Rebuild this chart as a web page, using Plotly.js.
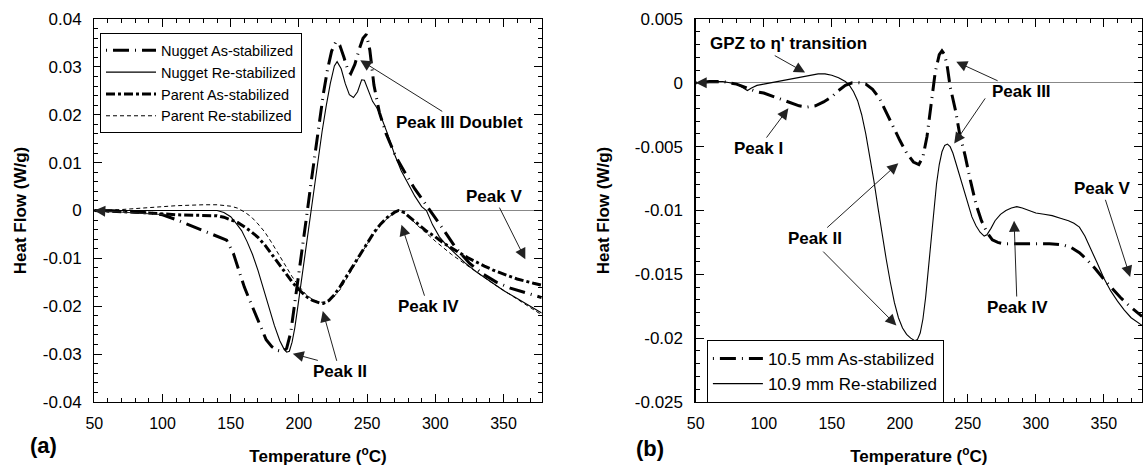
<!DOCTYPE html>
<html>
<head>
<meta charset="utf-8">
<script src="https://cdn.plot.ly/plotly-3.0.1.min.js"></script>
<style>html,body{margin:0;padding:0;background:#fff;}#chart{width:1146px;height:472px;}</style>
</head>
<body>
<div id="chart"></div>
<script>
// ---------- Panel (a) data ----------
const tempNuggetAs = [50,70,90,100,110,120,130,140,147,152,156,160,164,168,172,176,180,184,188,191,194,197,200,203,206,209,212,215,218,221,224,227,230,233,236,238,241,244,247,249.5,252,255,259,264,271,278,285,290,295,300,306,315,325,335,345,355,365,372,378];
const hfNuggetAs = [0,-0.0001,-0.0005,-0.0009,-0.0019,-0.0031,-0.0043,-0.0055,-0.0062,-0.009,-0.0125,-0.016,-0.0188,-0.0215,-0.0243,-0.027,-0.0284,-0.0292,-0.0295,-0.0288,-0.0255,-0.0195,-0.0132,-0.0068,-0.0005,0.006,0.0122,0.0183,0.0245,0.0295,0.0333,0.0352,0.0345,0.032,0.0292,0.0286,0.0305,0.0335,0.036,0.0368,0.0335,0.0262,0.0205,0.016,0.0113,0.0078,0.0045,0.0025,0.0005,-0.0015,-0.004,-0.0078,-0.011,-0.0133,-0.015,-0.0162,-0.0171,-0.0177,-0.0182];

const tempNuggetRe = [50,70,90,110,130,140,145,150,154,158,162,166,170,174,178,182,186,189,191,193,195,197,199,202,205,208,211,214,217,220,223,226,228,231,234,237,240,243,246,248,251,254,257,261,265,270,275,280,285,290,293.5,298,303,308,315,322,330,340,350,360,370,378];
const hfNuggetRe = [0,0,0,0.0001,0.0001,0,-0.0004,-0.0013,-0.0027,-0.0042,-0.0065,-0.0092,-0.0125,-0.0163,-0.0203,-0.024,-0.0272,-0.0289,-0.0296,-0.0294,-0.0275,-0.0245,-0.0205,-0.0143,-0.008,-0.0018,0.0045,0.0107,0.0165,0.0218,0.0265,0.0302,0.0311,0.0296,0.0265,0.0242,0.0236,0.0248,0.0273,0.0272,0.0248,0.0228,0.0215,0.019,0.016,0.0118,0.0083,0.0055,0.003,0.0008,0,-0.003,-0.0055,-0.0072,-0.0092,-0.011,-0.0128,-0.0148,-0.0167,-0.0184,-0.0201,-0.0214];

const tempParentAs = [50,70,90,110,130,140,145,150,155,160,165,170,175,180,185,190,195,200,205,210,215,218,222,226,230,235,240,245,250,255,260,265,270,273,277,282,288,294,300,306,312,318,324,330,336,342,348,354,360,366,372,378];
const hfParentAs = [0,-0.0002,-0.0005,-0.0009,-0.0011,-0.0011,-0.0014,-0.0019,-0.0025,-0.0034,-0.0044,-0.0056,-0.0072,-0.0091,-0.0111,-0.0131,-0.0149,-0.0165,-0.0179,-0.0188,-0.0193,-0.0194,-0.0188,-0.0176,-0.016,-0.0137,-0.0114,-0.009,-0.0067,-0.0046,-0.0028,-0.0014,-0.0004,0,-0.0004,-0.0015,-0.003,-0.0044,-0.0055,-0.0068,-0.0079,-0.0089,-0.0099,-0.0108,-0.0116,-0.0124,-0.0131,-0.0137,-0.0143,-0.0148,-0.0152,-0.0156];

const tempParentRe = [50,70,90,110,130,140,150,155,160,165,170,175,180,185,190,195,200,205,210,215,220,225,230,235,240,245,250,255,260,265,270,273,277,282,288,294,300,306,312,318,324,330,336,342,348,354,360,366,372,378];
const hfParentRe = [0,0.0002,0.0006,0.001,0.0012,0.0012,0.0009,0.0005,-0.0003,-0.0013,-0.0028,-0.0045,-0.0067,-0.0091,-0.0116,-0.0138,-0.0158,-0.0175,-0.0186,-0.0192,-0.0191,-0.0182,-0.0166,-0.0143,-0.0118,-0.0093,-0.0069,-0.0048,-0.003,-0.0016,-0.0005,-0.0001,-0.0005,-0.0017,-0.0034,-0.005,-0.0064,-0.0078,-0.0092,-0.0104,-0.0116,-0.0129,-0.014,-0.0152,-0.0163,-0.0174,-0.0185,-0.0196,-0.0207,-0.0218];

// ---------- Panel (b) data ----------
const temp105As = [50,60,70,80,85,90,95,100,105,110,115,120,126,132,138,144,150,155,160,165,170,175,180,185,190,195,200,205,210,214,217,220,223,226,229,231,233,235,237,239,241,244,248,252,256,260,264,268,272,276,282,290,300,310,320,326,332,338,344,350,356,362,368,374,378];
const hf105As = [0,0.0001,0.0001,-0.0001,-0.0003,-0.0005,-0.0007,-0.0008,-0.001,-0.0012,-0.0014,-0.0016,-0.0018,-0.0019,-0.0018,-0.0015,-0.0011,-0.0006,-0.0002,0,0,-0.0001,-0.0005,-0.0012,-0.0023,-0.0035,-0.0045,-0.0055,-0.0062,-0.0064,-0.0058,-0.0042,-0.0015,0.0008,0.0022,0.0025,0.0022,0.0012,-0.0003,-0.0012,-0.0022,-0.004,-0.0057,-0.0077,-0.0095,-0.0108,-0.0117,-0.0123,-0.0125,-0.0126,-0.0126,-0.0126,-0.0126,-0.0126,-0.0127,-0.0129,-0.0133,-0.0139,-0.0146,-0.0154,-0.0161,-0.0168,-0.0174,-0.0179,-0.0183];

const temp109Re = [50,55,60,65,70,75,80,85,88,91,95,100,105,110,115,120,125,130,135,140,145,150,155,160,163,166,169,172,175,178,181,184,187,190,193,196,199,202,205,208,211,213,215,217,219,221,223,225,227,229,231,233,235,237,239,241,244,247,250,253,256,259,262,264,267,270,274,278,282,286,290,295,300,306,312,318,324,328,332,336,340,345,350,355,360,365,370,375,378];
const hf109Re = [0,0,0.0001,0.0001,0.0001,0,-0.0001,-0.0004,-0.0006,-0.0004,-0.0002,-0.0001,0,0.0001,0.0002,0.0003,0.0004,0.0005,0.0006,0.0007,0.0007,0.0006,0.0004,0.0001,-0.0002,-0.0007,-0.0014,-0.0025,-0.004,-0.0057,-0.0077,-0.0098,-0.0119,-0.0138,-0.0156,-0.0172,-0.0184,-0.0192,-0.0197,-0.02,-0.0202,-0.0201,-0.0196,-0.0185,-0.0168,-0.0146,-0.0122,-0.0099,-0.0079,-0.0064,-0.0054,-0.0049,-0.0048,-0.005,-0.0055,-0.0062,-0.0073,-0.0085,-0.0096,-0.0105,-0.0112,-0.0117,-0.012,-0.0119,-0.0114,-0.0108,-0.0103,-0.01,-0.0098,-0.0097,-0.0098,-0.01,-0.0102,-0.0103,-0.0104,-0.0106,-0.0108,-0.011,-0.0113,-0.012,-0.0129,-0.0141,-0.0153,-0.0163,-0.0171,-0.0178,-0.0184,-0.0188,-0.019];

// ---------- Axis tick labels ----------
const xTickVals = [50,100,150,200,250,300,350];
const xTickText = ['50','100','150','200','250','300','350'];
const yTickValsA = [0.04,0.03,0.02,0.01,0,-0.01,-0.02,-0.03,-0.04];
const yTickTextA = ['0.04','0.03','0.02','0.01','0','-0.01','-0.02','-0.03','-0.04'];
const yTickValsB = [0.005,0,-0.005,-0.01,-0.015,-0.02,-0.025];
const yTickTextB = ['0.005','0','-0.005','-0.01','-0.015','-0.02','-0.025'];

const FONT = 'Arial, "Liberation Sans", Helvetica, sans-serif';
const LONGDASH = '1px,6px,16px,6px';

const traces = [
  {x: tempNuggetAs, y: hfNuggetAs, name: 'Nugget As-stabilized', mode: 'lines', xaxis: 'x', yaxis: 'y', legend: 'legend',
   line: {color: '#000', width: 3, dash: LONGDASH}},
  {x: tempNuggetRe, y: hfNuggetRe, name: 'Nugget Re-stabilized', mode: 'lines', xaxis: 'x', yaxis: 'y', legend: 'legend',
   line: {color: '#000', width: 1.1}},
  {x: tempParentAs, y: hfParentAs, name: 'Parent As-stabilized', mode: 'lines', xaxis: 'x', yaxis: 'y', legend: 'legend',
   line: {color: '#000', width: 3, dash: '9px,3px,3px,3px'}},
  {x: tempParentRe, y: hfParentRe, name: 'Parent Re-stabilized', mode: 'lines', xaxis: 'x', yaxis: 'y', legend: 'legend',
   line: {color: '#000', width: 1, dash: '4px,3px'}},
  {x: temp105As, y: hf105As, name: '10.5 mm As-stabilized', mode: 'lines', xaxis: 'x2', yaxis: 'y2', legend: 'legend2',
   line: {color: '#000', width: 3, dash: LONGDASH}},
  {x: temp109Re, y: hf109Re, name: '10.9 mm Re-stabilized', mode: 'lines', xaxis: 'x2', yaxis: 'y2', legend: 'legend2',
   line: {color: '#000', width: 1.1}}
];

function xAxis(domain, anchor) {
  return {
    domain: domain, anchor: anchor, range: [50, 378], showgrid: false, zeroline: false,
    showline: true, linecolor: '#000', linewidth: 1.3, mirror: 'allticks',
    ticks: 'inside', ticklen: 8, tickwidth: 1, tickcolor: '#000',
    tickmode: 'array', tickvals: xTickVals, ticktext: xTickText,
    minor: {dtick: 10, tick0: 50, ticks: 'inside', ticklen: 4, tickcolor: '#000', tickwidth: 1, showgrid: false},
    tickfont: {family: FONT, size: 16, color: '#000'}, ticklabelstandoff: 6,
    title: {text: '<b>Temperature (<sup>o</sup>C)</b>', font: {family: FONT, size: 17, color: '#000'}, standoff: 19}
  };
}
function yAxis(range, vals, text, minorD, anchor, standoff) {
  return {
    domain: [0, 1], anchor: anchor, range: range, showgrid: false,
    zeroline: true, zerolinecolor: '#888', zerolinewidth: 1,
    showline: true, linecolor: '#000', linewidth: 1.3, mirror: 'allticks',
    ticks: 'inside', ticklen: 8, tickwidth: 1, tickcolor: '#000',
    tickmode: 'array', tickvals: vals, ticktext: text,
    minor: {dtick: minorD, tick0: 0, ticks: 'inside', ticklen: 4, tickcolor: '#000', tickwidth: 1, showgrid: false},
    tickfont: {family: FONT, size: 17, color: '#000'}, ticklabelstandoff: 8,
    title: {text: '<b>Heat Flow (W/g)</b>', font: {family: FONT, size: 17, color: '#000'}, standoff: standoff}
  };
}

const AF = {family: FONT, size: 17, color: '#000'};
const ARROW = {showarrow: true, arrowhead: 2, arrowsize: 2.2, arrowwidth: 1, arrowcolor: '#222', standoff: 0, startstandoff: 0};
// text label placed at (tx, ty) with its own arrow pointing to (tipX, tipY)
function labelArrow(xr, yr, tx, ty, text, tipX, tipY) {
  return Object.assign({xref: xr, yref: yr, axref: xr, ayref: yr, x: tipX, y: tipY, ax: tx, ay: ty,
    text: '<b>' + text + '</b>', font: AF}, ARROW);
}
function label(xr, yr, x, y, text) {
  return {xref: xr, yref: yr, x: x, y: y, text: '<b>' + text + '</b>', showarrow: false, font: AF, xanchor: 'center', yanchor: 'middle'};
}
function arrow(xr, yr, tipX, tipY, tailX, tailY) {
  return Object.assign({xref: xr, yref: yr, axref: xr, ayref: yr, x: tipX, y: tipY, ax: tailX, ay: tailY, text: ''}, ARROW);
}

const annotations = [
  // panel (a)
  arrow('x', 'y', 50, 0, 103, -0.0009),
  labelArrow('x', 'y', 318, 0.0184, 'Peak III Doublet', 245, 0.0314),
  labelArrow('x', 'y', 343, 0.0029, 'Peak V', 366, -0.0102),
  labelArrow('x', 'y', 294.7, -0.0201, 'Peak IV', 275.2, -0.003),
  labelArrow('x', 'y', 230, -0.0337, 'Peak II', 217.5, -0.021),
  arrow('x', 'y', 195.5, -0.0299, 215, -0.0314),
  // panel (b)
  arrow('x2', 'y2', 50, 0, 68, 0),
  label('x2', 'y2', 118.1, 0.0031, 'GPZ to \u03b7\' transition'),
  arrow('x2', 'y2', 130.4, 0.0008, 107, 0.0022),
  labelArrow('x2', 'y2', 96, -0.00515, 'Peak I', 118.1, -0.002),
  labelArrow('x2', 'y2', 289.5, -0.0007, 'Peak III', 241.5, 0.00165),
  arrow('x2', 'y2', 240, -0.00476, 263.5, -0.0011),
  labelArrow('x2', 'y2', 137.7, -0.0122, 'Peak II', 198.9, -0.0063),
  arrow('x2', 'y2', 197.5, -0.019, 142.6, -0.0131),
  labelArrow('x2', 'y2', 286.2, -0.0176, 'Peak IV', 284, -0.0108),
  labelArrow('x2', 'y2', 348.5, -0.0083, 'Peak V', 369.3, -0.0152),
  // panel letters
  {xref: 'paper', yref: 'paper', x: 43 / 1146, y: (402 - 446) / 383, text: '<b>(a)</b>', showarrow: false,
   font: {family: FONT, size: 22, color: '#000'}, xanchor: 'center', yanchor: 'middle'},
  {xref: 'paper', yref: 'paper', x: 650 / 1146, y: (402 - 448) / 383, text: '<b>(b)</b>', showarrow: false,
   font: {family: FONT, size: 22, color: '#000'}, xanchor: 'center', yanchor: 'middle'}
];

const layout = {
  width: 1146, height: 472,
  margin: {l: 0, r: 0, t: 19, b: 70},
  paper_bgcolor: '#fff', plot_bgcolor: '#fff',
  font: {family: FONT, size: 15, color: '#000'},
  showlegend: true,
  xaxis: xAxis([94.3 / 1146, 541.7 / 1146], 'y'),
  yaxis: yAxis([-0.04, 0.04], yTickValsA, yTickTextA, 0.002, 'x', 12),
  xaxis2: xAxis([695.7 / 1146, 1142 / 1146], 'y2'),
  yaxis2: yAxis([-0.025, 0.005], yTickValsB, yTickTextB, 0.001, 'x2', 20),
  legend: {x: 100 / 1146, y: (402 - 33.3) / 383, xanchor: 'left', yanchor: 'top',
    bgcolor: '#fff', bordercolor: '#000', borderwidth: 1, font: {family: FONT, size: 14.5, color: '#000'},
    itemwidth: 50, tracegroupgap: 0},
  legend2: {x: 706.9 / 1146, y: (402 - 340) / 383, xanchor: 'left', yanchor: 'top',
    bgcolor: '#fff', bordercolor: '#000', borderwidth: 1, font: {family: FONT, size: 17, color: '#000'},
    itemwidth: 50, tracegroupgap: 0},
  annotations: annotations
};

Plotly.newPlot('chart', traces, layout, {displayModeBar: false, staticPlot: true});
</script>
</body>
</html>
